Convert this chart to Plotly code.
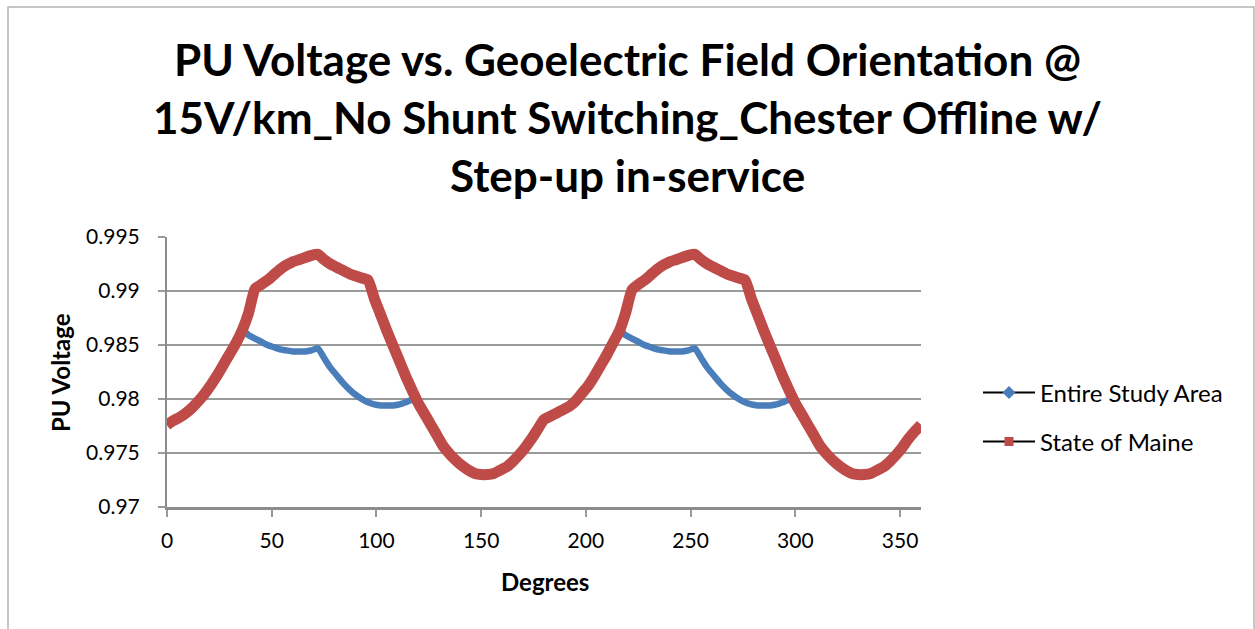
import plotly.graph_objects as go

# Field orientation in degrees (3-degree steps)
degrees = list(range(0, 361, 3))

# PU voltage, State of Maine
maine = [
    0.9776, 0.9780, 0.9783, 0.9787, 0.9792, 0.9798, 0.9805, 0.9813, 0.9822, 0.9832,
    0.9842, 0.9852, 0.9864, 0.9880, 0.9902, 0.9906, 0.9910, 0.9915, 0.9920, 0.9924,
    0.9927, 0.9929, 0.9931, 0.9933, 0.9934, 0.9929, 0.9925, 0.9922, 0.9919, 0.9916,
    0.9914, 0.9912, 0.9910, 0.9893, 0.9878, 0.9863, 0.9849, 0.9835, 0.9821, 0.9808,
    0.9796, 0.9786, 0.9776, 0.9766, 0.9756, 0.9749, 0.9743, 0.9738, 0.9734, 0.9731,
    0.9730, 0.9730, 0.9731, 0.9734, 0.9737, 0.9742, 0.9748, 0.9755, 0.9763, 0.9772,
    0.9781, 0.9784, 0.9787, 0.9790, 0.9793, 0.9798, 0.9805, 0.9812, 0.9821, 0.9831,
    0.9841, 0.9852, 0.9863, 0.9880, 0.9901, 0.9906, 0.9910, 0.9915, 0.9920, 0.9924,
    0.9927, 0.9929, 0.9931, 0.9933, 0.9934, 0.9929, 0.9925, 0.9922, 0.9919, 0.9916,
    0.9914, 0.9912, 0.9910, 0.9893, 0.9878, 0.9863, 0.9849, 0.9835, 0.9821, 0.9808,
    0.9796, 0.9786, 0.9776, 0.9766, 0.9756, 0.9749, 0.9743, 0.9738, 0.9734, 0.9731,
    0.9730, 0.9730, 0.9731, 0.9734, 0.9737, 0.9742, 0.9748, 0.9755, 0.9763, 0.9770,
    0.9776,
]

# PU voltage, entire study area
study_area = [
    0.9776, 0.9780, 0.9783, 0.9787, 0.9792, 0.9798, 0.9805, 0.9813, 0.9822, 0.9832,
    0.9842, 0.9852, 0.9864, 0.9859, 0.9856, 0.9853, 0.9850, 0.9848, 0.9846, 0.9845,
    0.9844, 0.9844, 0.9844, 0.9845, 0.9847, 0.9838, 0.9829, 0.9822, 0.9815, 0.9809,
    0.9804, 0.9800, 0.9797, 0.9795, 0.9794, 0.9794, 0.9794, 0.9795, 0.9797, 0.9799,
    0.9796, 0.9786, 0.9776, 0.9766, 0.9756, 0.9749, 0.9743, 0.9738, 0.9734, 0.9731,
    0.9730, 0.9730, 0.9731, 0.9734, 0.9737, 0.9742, 0.9748, 0.9755, 0.9763, 0.9772,
    0.9781, 0.9784, 0.9787, 0.9790, 0.9793, 0.9798, 0.9805, 0.9812, 0.9821, 0.9831,
    0.9841, 0.9852, 0.9863, 0.9859, 0.9856, 0.9853, 0.9850, 0.9848, 0.9846, 0.9845,
    0.9844, 0.9844, 0.9844, 0.9845, 0.9847, 0.9838, 0.9829, 0.9822, 0.9815, 0.9809,
    0.9804, 0.9800, 0.9797, 0.9795, 0.9794, 0.9794, 0.9794, 0.9795, 0.9797, 0.9799,
    0.9796, 0.9786, 0.9776, 0.9766, 0.9756, 0.9749, 0.9743, 0.9738, 0.9734, 0.9731,
    0.9730, 0.9730, 0.9731, 0.9734, 0.9737, 0.9742, 0.9748, 0.9755, 0.9763, 0.9770,
    0.9776,
]

x_ticks = [0, 50, 100, 150, 200, 250, 300, 350]
y_ticks = [0.97, 0.975, 0.98, 0.985, 0.99, 0.995]
y_tick_text = ["0.97", "0.975", "0.98", "0.985", "0.99", "0.995"]

title_lines = [
    "PU Voltage vs. Geoelectric Field Orientation @",
    "15V/km_No Shunt Switching_Chester Offline w/",
    "Step-up in-service",
]

BLUE = "#4A7EBB"
RED = "#BE4B48"
GRID = "#9a9a9a"
FONT = "Lato"

W, H = 1255, 629
L, R, T, B = 167, 334, 237, 122
pw, ph = W - L - R, H - T - B


def px_x(p):
    return (p - L) / pw


def px_y(p):
    return (H - B - p) / ph


fig = go.Figure()

fig.add_trace(go.Scatter(
    x=degrees, y=study_area, mode="lines",
    line=dict(color=BLUE, width=6.5, shape="spline", smoothing=0.5),
    showlegend=False, hoverinfo="x+y",
))
fig.add_trace(go.Scatter(
    x=degrees, y=maine, mode="lines",
    line=dict(color=RED, width=11, shape="spline", smoothing=0.5),
    showlegend=False, hoverinfo="x+y",
))

# Legend entries: black connector with coloured marker
fig.add_trace(go.Scatter(
    x=[None], y=[None], mode="lines+markers", name="Entire Study Area",
    line=dict(color="black", width=2),
    marker=dict(symbol="diamond", color=BLUE, size=10),
    legend="legend",
))
fig.add_trace(go.Scatter(
    x=[None], y=[None], mode="lines+markers", name="State of Maine",
    line=dict(color="black", width=2),
    marker=dict(symbol="square", color=RED, size=9),
    legend="legend2",
))

legend_style = dict(
    font=dict(family=FONT, size=24, color="black"),
    bgcolor="rgba(0,0,0,0)", borderwidth=0,
    itemwidth=52, xanchor="left", yanchor="middle",
)

title_y = [59, 117, 175]
annotations = [
    dict(text=t, x=px_x(W / 2), y=px_y(yy), xref="paper", yref="paper",
         xanchor="center", yanchor="middle", showarrow=False,
         font=dict(family=FONT, size=44, color="black", weight="bold"))
    for t, yy in zip(title_lines, title_y)
]

annotations.append(dict(
    text="<b>PU Voltage</b>", x=px_x(60), y=px_y(373), xref="paper", yref="paper",
    textangle=-90, showarrow=False, xanchor="center", yanchor="middle",
    font=dict(family=FONT, size=24, color="black"),
))
annotations.append(dict(
    text="<b>Degrees</b>", x=px_x(545), y=px_y(581), xref="paper", yref="paper",
    showarrow=False, xanchor="center", yanchor="middle",
    font=dict(family=FONT, size=24, color="black"),
))

fig.update_layout(
    width=W, height=H,
    margin=dict(l=L, r=R, t=T, b=B, pad=0),
    paper_bgcolor="white", plot_bgcolor="white",
    font=dict(family=FONT, color="black"),
    annotations=annotations,
    legend=dict(x=px_x(978), y=px_y(393), **legend_style),
    legend2=dict(x=px_x(978), y=px_y(442), **legend_style),
    xaxis=dict(
        range=[0, 360], tickvals=x_ticks, ticks="outside", ticklen=7,
        tickwidth=1.5, tickcolor=GRID, showgrid=False, zeroline=False,
        showline=True, linecolor="#8c8c8c", linewidth=2.5,
        tickfont=dict(family=FONT, size=21, color="black"),
        ticklabelstandoff=6,
    ),
    yaxis=dict(
        range=[0.97, 0.995], tickvals=y_ticks, ticktext=y_tick_text,
        ticks="outside", ticklen=7, tickwidth=1.5, tickcolor=GRID,
        showgrid=True, gridcolor=GRID, gridwidth=1.5, zeroline=False,
        showline=True, linecolor="#8c8c8c", linewidth=2,
        tickfont=dict(family=FONT, size=21, color="black"),
        ticklabelstandoff=14,
    ),
    shapes=[dict(
        type="rect", xref="paper", yref="paper",
        x0=px_x(8), x1=px_x(1254), y0=px_y(7), y1=px_y(640),
        line=dict(color="#b4b4b4", width=1.5), fillcolor="rgba(0,0,0,0)",
        layer="below",
    )],
)

fig.write_html("out.html")
